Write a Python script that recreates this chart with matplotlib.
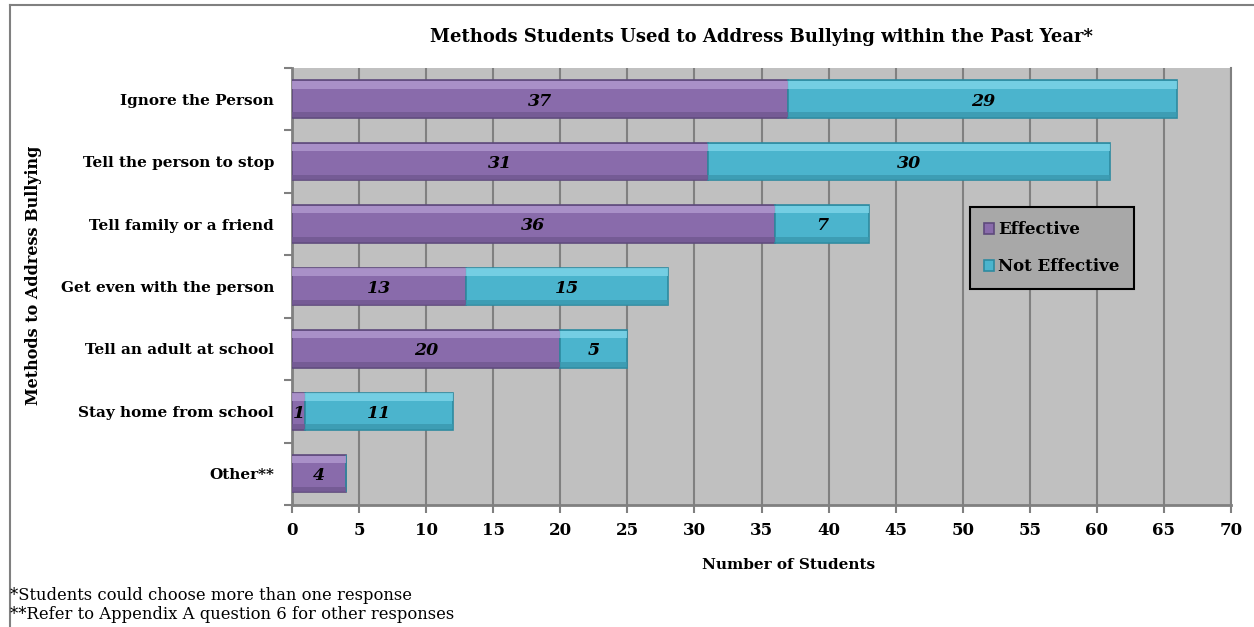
import numpy as np
import matplotlib.pyplot as plt
from matplotlib.lines import Line2D

categories = ["Ignore the Person", "Tell the person to stop", "Tell family or a friend",
              "Get even with the person", "Tell an adult at school",
              "Stay home from school", "Other**"]
effective = [37, 31, 36, 13, 20, 1, 4]
not_effective = [29, 30, 7, 15, 5, 11, 0]
xticks = list(range(0, 75, 5))

purple = '#896BAB'
purple_edge = '#5E4A7C'
purple_hi = '#B29AD0'
purple_lo = '#715790'
cyan = '#4BB4CD'
cyan_edge = '#2E8AA0'
cyan_hi = '#7FD5E9'
cyan_lo = '#3A98AE'

plt.rcParams['font.family'] = ['DejaVu Serif']

fig = plt.figure(figsize=(12.54, 6.27), dpi=100)
ax = fig.add_axes([0.2329, 0.1946, 0.7488, 0.6970])
ax.set_facecolor('#C0C0C0')

y = np.arange(len(categories))
h = 0.6
ax.barh(y, effective, height=h, color=purple, edgecolor=purple_edge, linewidth=1.2,
        label='Effective', zorder=3)
ax.barh(y, not_effective, height=h, left=effective, color=cyan, edgecolor=cyan_edge,
        linewidth=1.2, label='Not Effective', zorder=3)

# bevel: lighter band at top, darker band at bottom
ax.barh(y - h / 2 + 0.07, effective, height=0.12, color=purple_hi, linewidth=0,
        zorder=4, alpha=0.8)
ax.barh(y - h / 2 + 0.07, not_effective, height=0.12, left=effective, color=cyan_hi,
        linewidth=0, zorder=4, alpha=0.8)
ax.barh(y + h / 2 - 0.05, effective, height=0.08, color=purple_lo, linewidth=0,
        zorder=4, alpha=0.8)
ax.barh(y + h / 2 - 0.05, not_effective, height=0.08, left=effective, color=cyan_lo,
        linewidth=0, zorder=4, alpha=0.8)

for i in range(len(categories)):
    if effective[i] > 0:
        ax.text(effective[i] / 2, y[i] + 0.03, str(effective[i]), ha='center',
                va='center', fontsize=12.5, fontweight='bold', style='italic', zorder=5)
    if not_effective[i] > 0:
        ax.text(effective[i] + not_effective[i] / 2, y[i] + 0.03, str(not_effective[i]),
                ha='center', va='center', fontsize=12.5, fontweight='bold',
                style='italic', zorder=5)

ax.set_xlim(0, 70)
ax.set_ylim(len(categories) - 0.5, -0.5)
ax.set_xticks(xticks)
ax.set_xticklabels([str(t) for t in xticks], fontsize=12, fontweight='bold')
ax.set_yticks(y)
ax.set_yticklabels(categories, fontsize=11, fontweight='bold')
ax.set_yticks(np.arange(-0.5, len(categories), 1), minor=True)
ax.tick_params(axis='y', which='major', length=0, pad=13)
ax.tick_params(axis='y', which='minor', length=6, color='#808080', width=1.5)
ax.tick_params(axis='x', length=6, color='#808080', width=1.5, pad=6)

ax.grid(axis='x', color='#808080', linewidth=1.5, zorder=0)
ax.set_axisbelow(True)
ax.spines['top'].set_visible(False)
ax.spines['right'].set_color('#808080')
ax.spines['right'].set_linewidth(1.5)
for s in ['left', 'bottom']:
    ax.spines[s].set_color('#808080')
    ax.spines[s].set_linewidth(2)

ax.set_title("Methods Students Used to Address Bullying within the Past Year*",
             fontsize=13, fontweight='bold', pad=19)
fig.text(0.629, 0.099, "Number of Students", ha='center', va='center',
         fontsize=11, fontweight='bold')
fig.text(0.027, 0.561, "Methods to Address Bullying", ha='center', va='center',
         rotation=90, fontsize=11.5, fontweight='bold')

leg = ax.legend(loc='upper left', bbox_to_anchor=(0.722, 0.682), frameon=True,
                fancybox=False, facecolor='#A8A8A8', edgecolor='black',
                prop={'size': 12, 'weight': 'bold'}, handlelength=0.6,
                handleheight=0.6, handletextpad=0.25, labelspacing=1.2,
                borderpad=0.85, borderaxespad=0)
leg.get_frame().set_linewidth(1.5)
leg.get_frame().set_alpha(1)

fig.text(0.008, 0.043, "*Students could choose more than one response", fontsize=11.8,
         va='baseline')
fig.text(0.008, 0.013, "**Refer to Appendix A question 6 for other responses",
         fontsize=11.8, va='baseline')

fig.add_artist(Line2D([0.008, 0.008], [0, 0.992], color='#808080', linewidth=1.5))
fig.add_artist(Line2D([0.008, 1], [0.992, 0.992], color='#808080', linewidth=1.5))

fig.savefig('out.png', dpi=100)
